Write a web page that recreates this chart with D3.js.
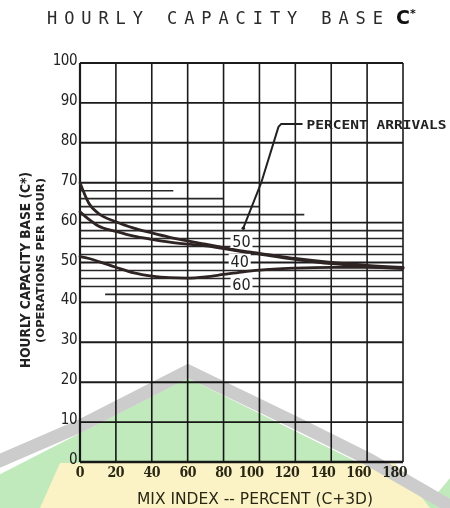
<!DOCTYPE html>
<html>
<head>
<meta charset="utf-8">
<script src="https://cdn.jsdelivr.net/npm/d3@7"></script>
<style>
  html, body { margin: 0; padding: 0; background: #fff; }
  svg { display: block; }
</style>
</head>
<body>
<svg id="chart"></svg>
<script>
// eixos
const xTicks = [0, 20, 40, 60, 80, 100, 120, 140, 160, 180];
const yTicks = [0, 10, 20, 30, 40, 50, 60, 70, 80, 90, 100];

// curvas
const mixIndex   = [0, 5, 10, 20, 30, 40, 50, 60, 70, 80, 90, 100, 120, 140, 160, 180];
const arrivals50 = [70.0, 64.8, 62.4, 60.2, 58.6, 57.4, 56.3, 55.4, 54.6, 53.7, 52.9, 52.3, 51.0, 50.0, 49.3, 48.8];
const arrivals40 = [62.7, 60.8, 59.2, 57.8, 56.6, 55.8, 55.1, 54.6, 54.2, 53.5, 52.7, 52.1, 50.8, 49.7, 49.0, 48.5];
const arrivals60 = [51.5, 51.0, 50.3, 48.8, 47.4, 46.6, 46.2, 46.1, 46.4, 47.0, 47.6, 48.1, 48.6, 48.8, 48.8, 48.7];

// linhas finas do papel
const hatchValues = [68, 66, 64, 62, 58, 56, 54, 52, 48, 46, 44, 42];
const hatchStart  = [0, 0, 0, 0, 0, 0, 0, 0, 0, 0, 0, 14];
const hatchEnd    = [52, 80, 100, 125, 180, 180, 180, 180, 180, 180, 180, 180];

// rotulos das curvas
const curveLabels = ["50", "40", "60"];
const labelX = [90, 89, 90];
const labelY = [55.4, 50.4, 44.6];

// seta "PERCENT ARRIVALS"
const leaderX = [124, 112, 110.6, 101, 91];
const leaderY = [84.7, 84.7, 84.0, 70, 58.6];

const width = 450, height = 508;
const margin = { top: 63, right: 47, bottom: 46, left: 80 };
const ink = "#1c1a1a";

const svg = d3.select("#chart").attr("width", width).attr("height", height);

const x = d3.scaleLinear().domain([0, 180]).range([margin.left, width - margin.right]);
const y = d3.scaleLinear().domain([0, 100]).range([height - margin.bottom, margin.top]);

// titulo
svg.append("text")
  .attr("x", 47).attr("y", 24)
  .attr("font-family", "DejaVu Sans Mono, monospace")
  .attr("font-size", 17).attr("fill", "#2a2a2a")
  .attr("textLength", 336).attr("lengthAdjust", "spacing")
  .text("HOURLY CAPACITY BASE");
svg.append("text")
  .attr("x", 396).attr("y", 24)
  .attr("font-family", "DejaVu Sans, sans-serif")
  .attr("font-weight", "bold").attr("font-size", 19).attr("fill", "#111")
  .text("C")
  .append("tspan").attr("dy", -7).attr("font-size", 11).text("*");

// linhas finas
svg.append("g").selectAll("line")
  .data(hatchValues)
  .join("line")
  .attr("x1", (d, i) => x(hatchStart[i]))
  .attr("x2", (d, i) => x(hatchEnd[i]))
  .attr("y1", d => y(d)).attr("y2", d => y(d))
  .attr("stroke", "#2a2828").attr("stroke-width", 1.6);

// grade principal
svg.append("g").selectAll("line")
  .data(xTicks)
  .join("line")
  .attr("x1", d => x(d)).attr("x2", d => x(d))
  .attr("y1", y(0)).attr("y2", y(100))
  .attr("stroke", ink).attr("stroke-width", d => (d === 0 ? 2.2 : 1.6));

svg.append("g").selectAll("line")
  .data(yTicks)
  .join("line")
  .attr("x1", x(0)).attr("x2", x(180))
  .attr("y1", d => y(d)).attr("y2", d => y(d))
  .attr("stroke", ink).attr("stroke-width", d => (d === 0 ? 2.4 : 1.9));

// eixo Y
svg.append("g").selectAll("text")
  .data(yTicks)
  .join("text")
  .attr("x", x(0) - 3).attr("y", d => y(d) + 2)
  .attr("text-anchor", "end")
  .attr("font-family", "DejaVu Sans Condensed, DejaVu Sans, sans-serif")
  .attr("font-size", 15).attr("fill", "#222")
  .attr("letter-spacing", -0.5)
  .text(d => d);

// eixo X
svg.append("g").selectAll("text")
  .data(xTicks)
  .join("text")
  .attr("x", d => (d >= 100 ? x(d) + 4 : x(d)))
  .attr("y", y(0) + 15)
  .attr("text-anchor", d => (d >= 100 ? "end" : "middle"))
  .attr("font-family", "DejaVu Serif Condensed, DejaVu Serif, serif")
  .attr("font-weight", "bold")
  .attr("font-size", 14).attr("fill", "#2a2a1a")
  .attr("letter-spacing", -0.5)
  .text(d => d);

svg.append("text")
  .attr("x", 137).attr("y", 504)
  .attr("font-family", "DejaVu Sans Condensed, DejaVu Sans, sans-serif")
  .attr("font-size", 15).attr("fill", "#2a2a1a")
  .attr("textLength", 236).attr("lengthAdjust", "spacingAndGlyphs")
  .text("MIX INDEX -- PERCENT (C+3D)");

// titulo do eixo Y
svg.append("text")
  .attr("transform", "translate(30,368) rotate(-90)")
  .attr("font-family", "DejaVu Sans Condensed, DejaVu Sans, sans-serif")
  .attr("font-weight", "bold")
  .attr("font-size", 14).attr("fill", "#222")
  .attr("textLength", 196).attr("lengthAdjust", "spacingAndGlyphs")
  .text("HOURLY CAPACITY BASE  (C*)");
svg.append("text")
  .attr("transform", "translate(44,343) rotate(-90)")
  .attr("font-family", "DejaVu Sans Condensed, DejaVu Sans, sans-serif")
  .attr("font-weight", "bold")
  .attr("font-size", 10).attr("fill", "#222")
  .attr("textLength", 165).attr("lengthAdjust", "spacingAndGlyphs")
  .text("(OPERATIONS PER HOUR)");

// curvas
const line = d3.line()
  .x((d, i) => x(mixIndex[i]))
  .y(d => y(d))
  .curve(d3.curveMonotoneX);

svg.append("g").selectAll("path")
  .data([arrivals60, arrivals40, arrivals50])
  .join("path")
  .attr("d", d => line(d))
  .attr("fill", "none")
  .attr("stroke", "#2e2424").attr("stroke-width", 2.8)
  .attr("stroke-linecap", "round");

// rotulos das curvas
const labels = svg.append("g").selectAll("g")
  .data(curveLabels)
  .join("g")
  .attr("transform", (d, i) => `translate(${x(labelX[i])},${y(labelY[i])})`);
labels.append("rect")
  .attr("x", -11).attr("y", -7).attr("width", 22).attr("height", 14)
  .attr("fill", "#fff");
labels.append("text")
  .attr("text-anchor", "middle").attr("dy", 6)
  .attr("font-family", "DejaVu Sans Condensed, DejaVu Sans, sans-serif")
  .attr("font-size", 16).attr("fill", "#222")
  .text(d => d);

// seta
const leader = d3.line()
  .x((d, i) => x(leaderX[i]))
  .y(d => y(d));
svg.append("path")
  .attr("d", leader(leaderY))
  .attr("fill", "none").attr("stroke", "#222").attr("stroke-width", 2)
  .attr("stroke-linejoin", "round");
svg.append("circle")
  .attr("cx", x(leaderX[leaderX.length - 1])).attr("cy", y(leaderY[leaderY.length - 1]))
  .attr("r", 1.8).attr("fill", "#222");
svg.append("text")
  .attr("x", x(leaderX[0]) + 4).attr("y", y(leaderY[0]) + 5)
  .attr("font-family", "DejaVu Sans Mono, monospace")
  .attr("font-weight", "bold")
  .attr("font-size", 12).attr("fill", "#222")
  .attr("textLength", 140).attr("lengthAdjust", "spacingAndGlyphs")
  .text("PERCENT ARRIVALS");

// marca d'agua
const wm = svg.append("g").style("mix-blend-mode", "multiply");
wm.append("polygon")
  .attr("points", "188,378 -60,505 -60,520 470,520 470,518")
  .attr("fill", "#c0e9bc");
wm.append("polygon")
  .attr("points", "425,508 450,478 450,508")
  .attr("fill", "#c0e9bc");
wm.append("polygon")
  .attr("points", "60,463 395,463 430,508 40,508")
  .attr("fill", "#fbf3c6");
wm.append("polyline")
  .attr("points", "-10,465 80,426 188,371 300,425 370,460 460,512")
  .attr("fill", "none").attr("stroke", "#cccccc").attr("stroke-width", 13);
</script>
</body>
</html>
